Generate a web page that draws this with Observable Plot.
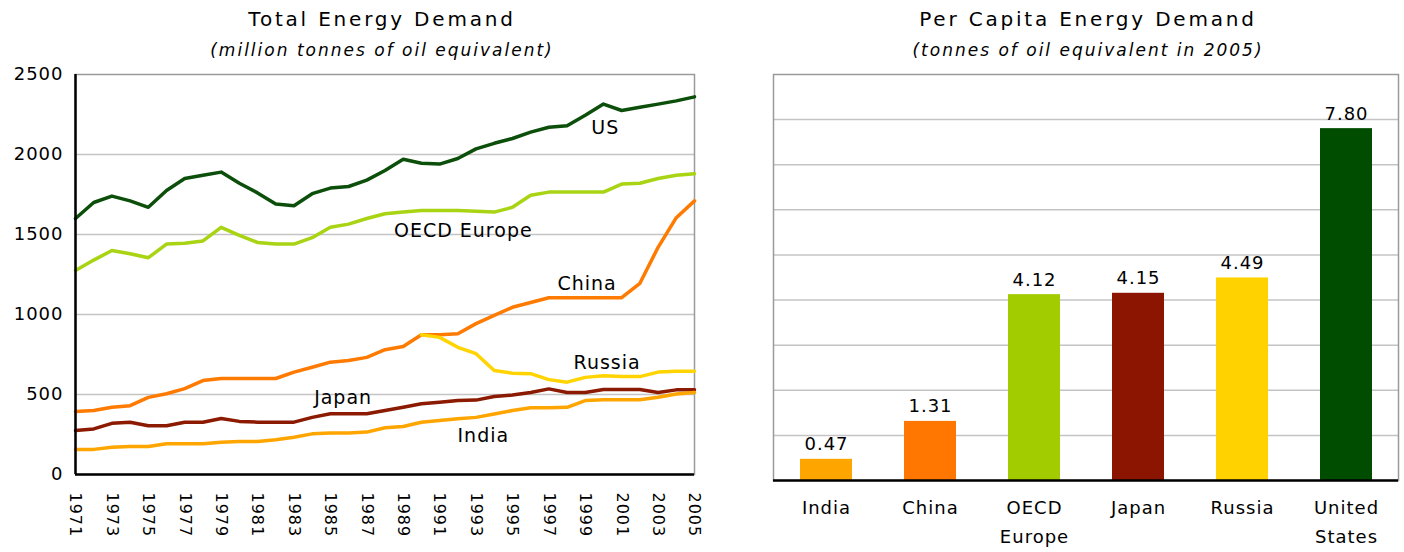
<!DOCTYPE html>
<html>
<head>
<meta charset="utf-8">
<script src="https://cdn.jsdelivr.net/npm/d3@7"></script>
<script src="https://cdn.jsdelivr.net/npm/@observablehq/plot@0.6"></script>
<style>
  html, body { margin: 0; padding: 0; background: #fff; }
  #wrap { position: relative; width: 1404px; height: 552px; font-family: "DejaVu Sans", sans-serif; color: #000; }
  .title { position: absolute; text-align: center; font-size: 20px; letter-spacing: 2.8px; }
  .sub { position: absolute; text-align: center; font-size: 17px; font-style: italic; letter-spacing: 2px; }
  .chart { position: absolute; }
  .chart svg text { letter-spacing: 1px; }
</style>
</head>
<body>
<div id="wrap">
  <div class="title" style="left:132px; top:7px; width:500px;">Total Energy Demand</div>
  <div class="sub" style="left:132px; top:40px; width:500px;">(million tonnes of oil equivalent)</div>
  <div class="title" style="left:838px; top:7px; width:500px;">Per Capita Energy Demand</div>
  <div class="sub" style="left:838px; top:40px; width:500px;">(tonnes of oil equivalent in 2005)</div>
  <div class="chart" id="left" style="left:0px; top:60px;"></div>
  <div class="chart" id="right" style="left:760px; top:60px;"></div>
</div>
<script>
// ---- Total energy demand (Mtoe), 1971-2005 ----
const years = [1971,1972,1973,1974,1975,1976,1977,1978,1979,1980,1981,1982,1983,1984,1985,1986,1987,1988,1989,1990,1991,1992,1993,1994,1995,1996,1997,1998,1999,2000,2001,2002,2003,2004,2005];
const us     = [1600,1700,1740,1710,1670,1775,1850,1870,1890,1820,1760,1690,1680,1755,1790,1800,1840,1900,1970,1945,1940,1975,2035,2070,2100,2140,2170,2180,2245,2315,2275,2295,2315,2335,2360];
const oecd   = [1275,1340,1400,1380,1355,1440,1445,1460,1545,1495,1450,1440,1440,1480,1545,1565,1600,1630,1640,1650,1650,1650,1645,1640,1670,1745,1765,1765,1765,1765,1815,1820,1850,1870,1880];
const china  = [394,400,420,430,482,505,537,587,600,600,600,600,640,670,702,712,732,780,800,873,873,880,943,994,1045,1075,1105,1105,1105,1105,1105,1195,1420,1605,1710];
const russia = [null,null,null,null,null,null,null,null,null,null,null,null,null,null,null,null,null,null,null,873,857,795,755,650,633,630,593,577,607,617,612,612,640,645,645];
const japan  = [275,285,320,327,305,305,327,327,350,332,327,327,327,357,380,380,380,400,420,442,452,462,465,487,497,513,535,513,513,531,531,531,513,529,529];
const india  = [157,157,170,175,175,192,192,192,202,206,206,217,233,254,260,260,265,292,300,327,337,348,357,378,400,417,417,420,462,467,467,467,483,503,513];
const seriesNames  = ["US","OECD Europe","China","Russia","Japan","India"];
const seriesValues = [us, oecd, china, russia, japan, india];
const seriesColors = ["#0b4f0b","#a8d414","#ff7a00","#ffd400","#8b1a00","#ffa500"];
const yTicks = [0,500,1000,1500,2000,2500];
const xTicks = [1971,1973,1975,1977,1979,1981,1983,1985,1987,1989,1991,1993,1995,1997,1999,2001,2003,2005];
// in-chart series labels (data coordinates)
const labelNames  = ["US","OECD Europe","China","Russia","Japan","India"];
const labelYears  = [2000.1,1992.3,1999.1,2000.2,1985.7,1993.4];
const labelValues = [2165,1525,1194,700,481,244];

// ---- Per capita energy demand (toe, 2005) ----
const countries = ["India","China","OECD Europe","Japan","Russia","United States"];
const perCapita = [0.47,1.31,4.12,4.15,4.49,7.80];
const barColors = ["#ffa500","#ff7700","#a2cc00","#8b1500","#ffd200","#004d00"];
const countryTickLabels = ["India","China","OECD\nEurope","Japan","Russia","United\nStates"];
const perCapitaGrid = [1,2,3,4,5,6,7,8];

// build tables
const lineData = [];
seriesNames.forEach((name, s) => {
  years.forEach((yr, i) => {
    const v = seriesValues[s][i];
    if (v != null) lineData.push({series: name, year: yr, value: v});
  });
});
const labelData = labelNames.map((n, i) => ({name: n, year: labelYears[i], value: labelValues[i]}));
const barData = countries.map((c, i) => ({country: c, value: perCapita[i]}));

const baseStyle = {fontFamily: "DejaVu Sans, sans-serif", fontSize: "17px", color: "#000", background: "#fff", overflow: "visible"};

const left = Plot.plot({
  width: 710, height: 492,
  marginLeft: 75, marginRight: 16, marginTop: 14, marginBottom: 78,
  style: baseStyle,
  x: {domain: [1971, 2005], label: null},
  y: {domain: [0, 2500], label: null},
  color: {domain: seriesNames, range: seriesColors},
  marks: [
    Plot.ruleY(yTicks.slice(1, -1), {stroke: "#c4c4c4", strokeWidth: 1.5}),
    Plot.frame({stroke: "#9a9a9a", strokeWidth: 1.5}),
    Plot.axisX({ticks: xTicks, tickFormat: d => String(d), tickRotate: 90, tickSize: 0, tickPadding: 18, fontSize: 16, label: null}),
    Plot.axisY({ticks: yTicks, tickFormat: d => String(d), tickSize: 0, tickPadding: 12, fontSize: 18, label: null}),
    Plot.line(lineData, {x: "year", y: "value", z: "series", stroke: "series", strokeWidth: 3.5}),
    Plot.text(labelData, {x: "year", y: "value", text: "name", fontSize: 19, fill: "#000"}),
    Plot.ruleX([1971], {stroke: "#000", strokeWidth: 2.5}),
    Plot.ruleY([0], {stroke: "#000", strokeWidth: 2.5})
  ]
});
document.getElementById("left").appendChild(left);

const right = Plot.plot({
  width: 644, height: 492,
  marginLeft: 13, marginRight: 6, marginTop: 14, marginBottom: 72,
  style: baseStyle,
  x: {domain: countries, paddingInner: 0.5, paddingOuter: 0.25, label: null},
  y: {domain: [0, 9], axis: null},
  marks: [
    Plot.ruleY(perCapitaGrid, {stroke: "#c4c4c4", strokeWidth: 1.5}),
    Plot.frame({stroke: "#9a9a9a", strokeWidth: 1.5}),
    Plot.axisX({tickSize: 0, tickPadding: 12, fontSize: 18, lineHeight: 1.65, tickFormat: d => countryTickLabels[countries.indexOf(d)], label: null}),
    Plot.barY(barData, {x: "country", y: "value", fill: d => barColors[countries.indexOf(d.country)]}),
    Plot.text(barData, {x: "country", y: "value", text: d => d.value.toFixed(2), dy: -9, lineAnchor: "bottom", fontSize: 18, fill: "#000"}),
    Plot.ruleX([0], {x: () => 0, stroke: "#000", strokeWidth: 2.5}),
    Plot.ruleY([0], {stroke: "#000", strokeWidth: 2.5})
  ]
});
document.getElementById("right").appendChild(right);
</script>
</body>
</html>
